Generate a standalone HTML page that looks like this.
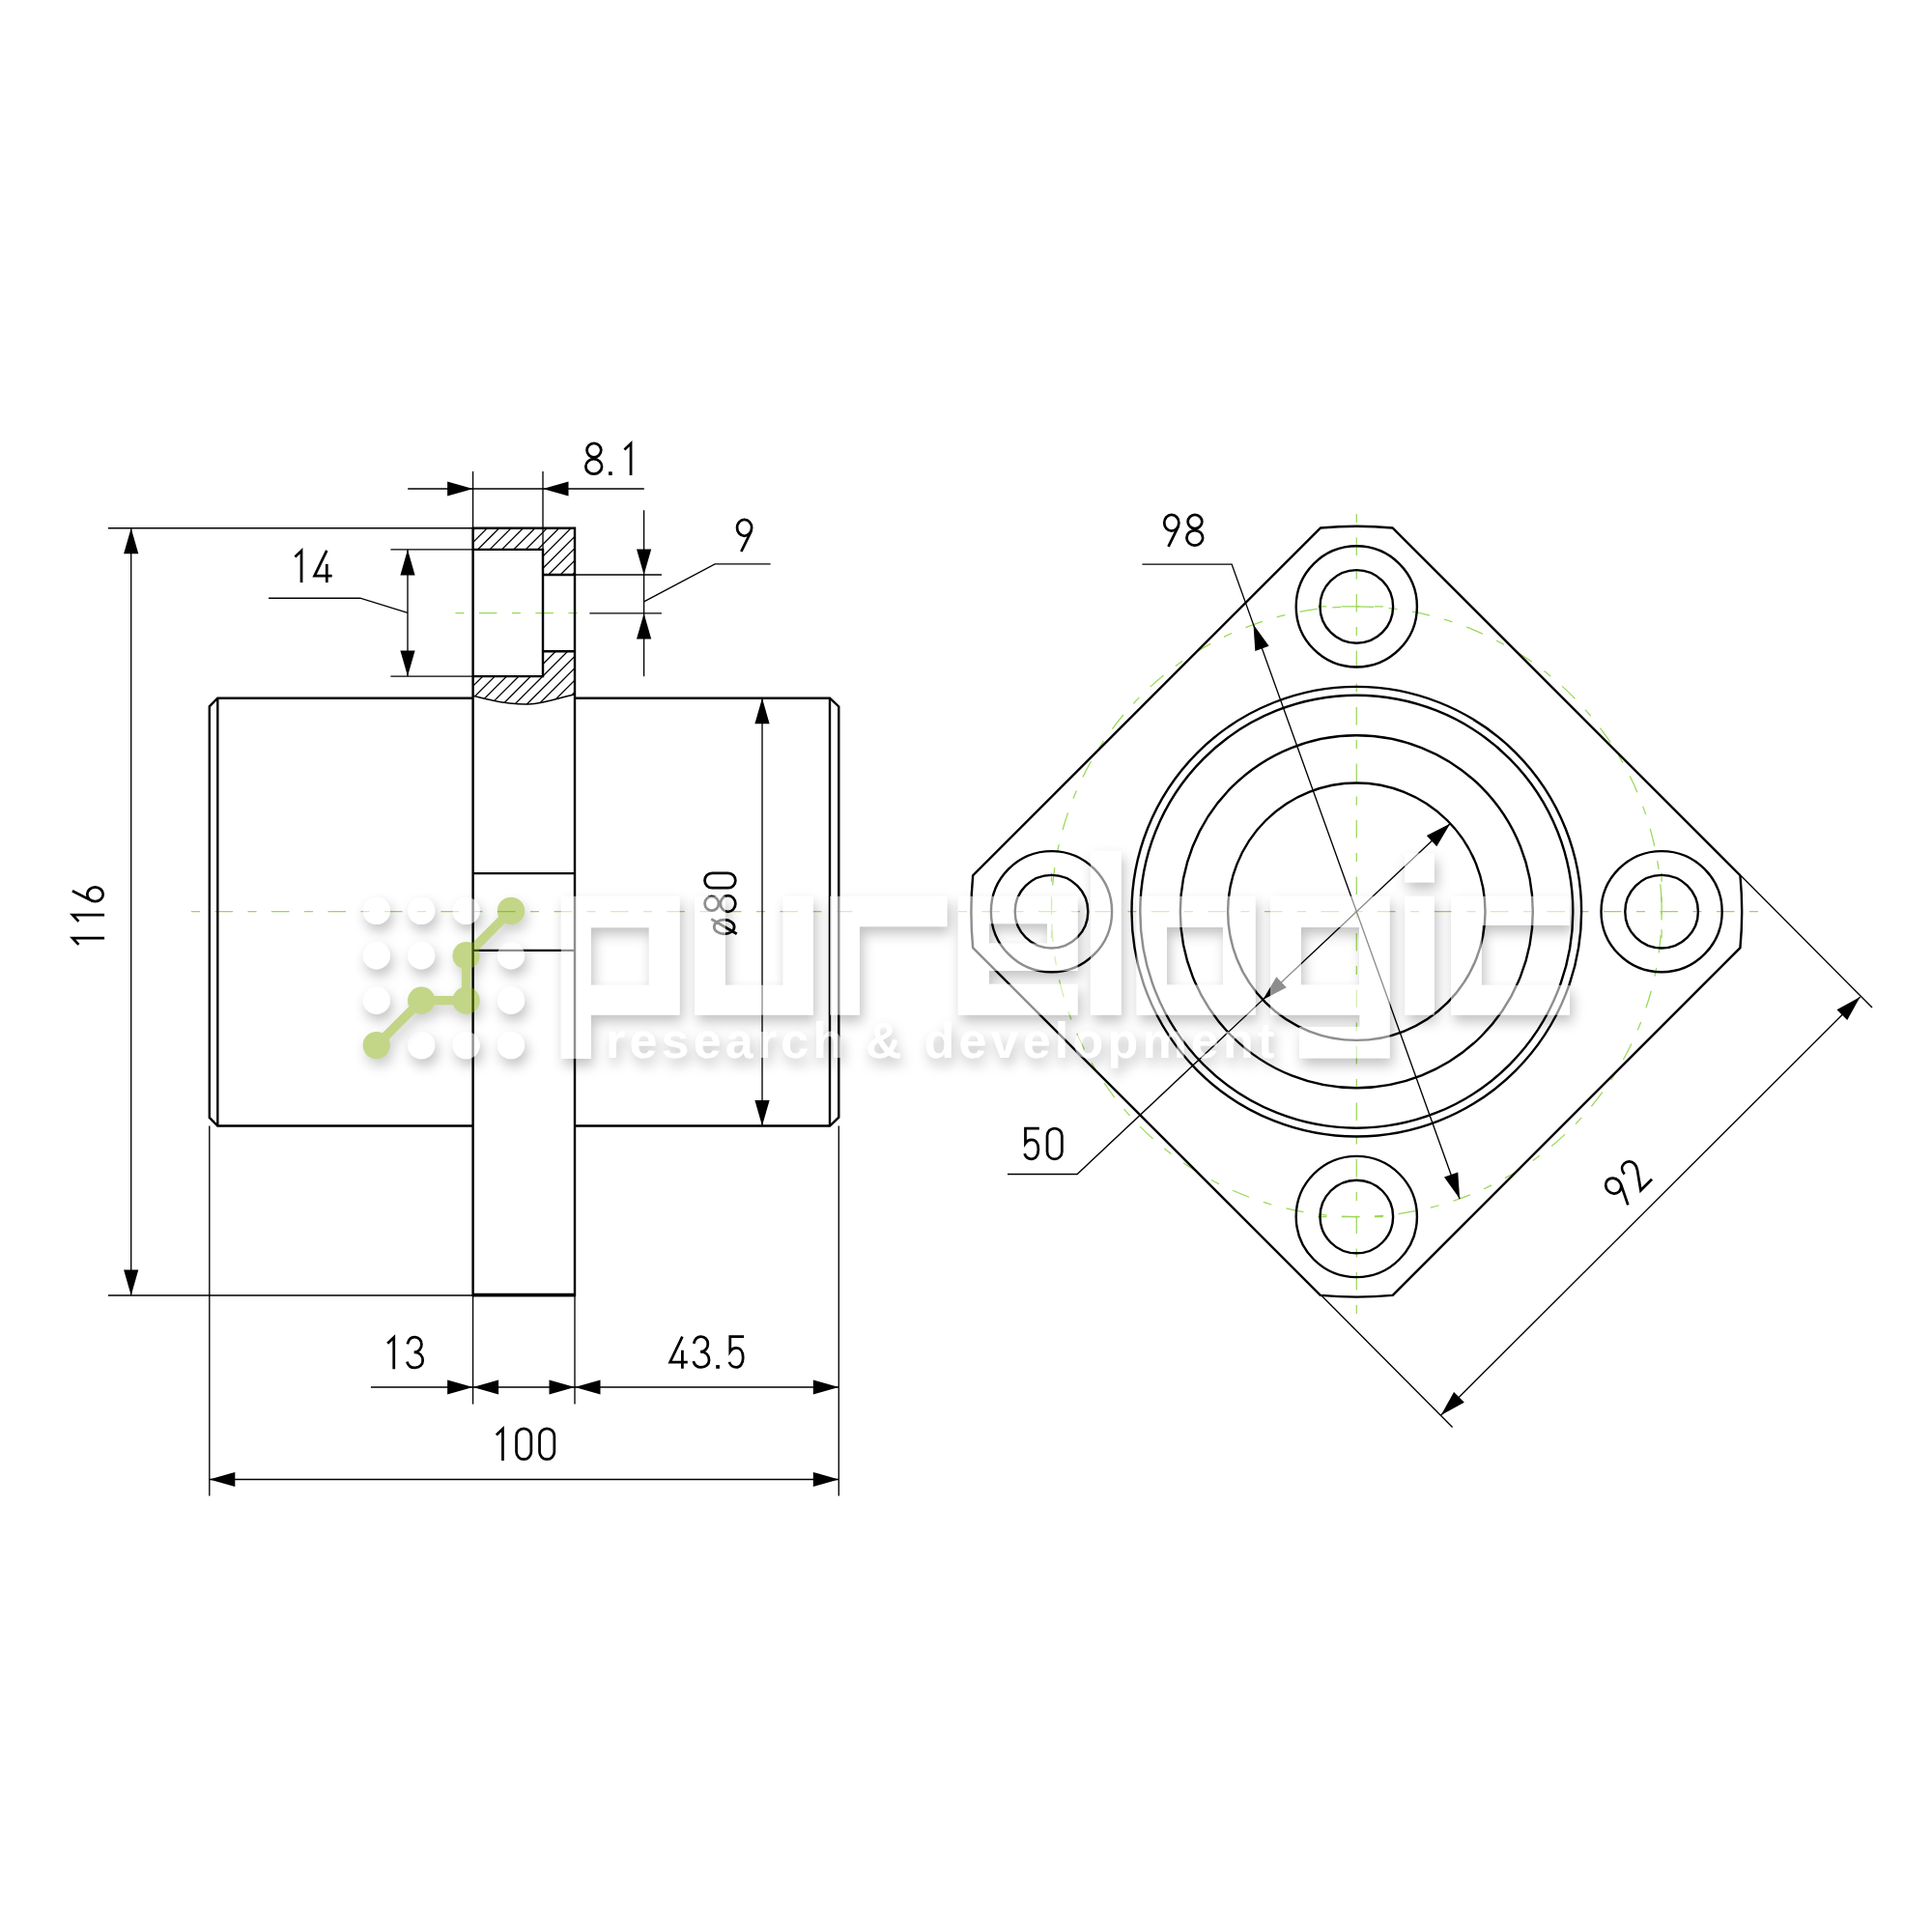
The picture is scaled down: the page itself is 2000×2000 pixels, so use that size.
<!DOCTYPE html>
<html><head><meta charset="utf-8"><title>Flange drawing</title>
<style>html,body{margin:0;padding:0;background:#fff;width:2000px;height:2000px;overflow:hidden}svg{display:block}</style>
</head><body>
<svg width="2000" height="2000" viewBox="0 0 2000 2000">
<rect width="2000" height="2000" fill="#fff"/>
<defs>
<clipPath id="hA"><path d="M489.6,546.7 L595.0,546.7 L595.0,595.0 L562.0,595.0 L562.0,568.9 L489.6,568.9 Z"/></clipPath>
<clipPath id="hB"><path d="M489.6,700.1 L562.0,700.1 L562.0,674.2 L595.0,674.2 L595.0,718.7 C580.0,722 563.0,728.5 547,729 C530,729.5 515,727 489.6,720.3 Z"/></clipPath>
<filter id="sh" x="-20%" y="-20%" width="140%" height="150%" color-interpolation-filters="sRGB">
<feGaussianBlur in="SourceAlpha" stdDeviation="6.5" result="bl"/>
<feOffset in="bl" dx="3" dy="7" result="of"/>
<feComposite in="of" in2="SourceAlpha" operator="out" result="o"/>
<feColorMatrix in="o" type="matrix" values="0 0 0 0 0  0 0 0 0 0  0 0 0 0 0  0 0 0 0.24 0" result="s"/>
<feComponentTransfer in="SourceGraphic" result="w"><feFuncA type="linear" slope="0.56"/></feComponentTransfer>
<feMerge><feMergeNode in="s"/><feMergeNode in="w"/></feMerge>
</filter>
<filter id="shg" x="-20%" y="-20%" width="140%" height="150%" color-interpolation-filters="sRGB">
<feGaussianBlur in="SourceAlpha" stdDeviation="6.5" result="bl"/>
<feOffset in="bl" dx="3" dy="7" result="of"/>
<feComposite in="of" in2="SourceAlpha" operator="out" result="o"/>
<feColorMatrix in="o" type="matrix" values="0 0 0 0 0  0 0 0 0 0  0 0 0 0 0  0 0 0 0.2 0" result="s"/>
<feComponentTransfer in="SourceGraphic" result="w"><feFuncA type="linear" slope="0.47"/></feComponentTransfer>
<feMerge><feMergeNode in="s"/><feMergeNode in="w"/></feMerge>
</filter>
</defs>
<line x1="198.00" y1="943.70" x2="882.40" y2="943.70" stroke="#9ad858" stroke-width="1.25" stroke-dasharray="9 15.5 18.5 15.5" stroke-dashoffset="0"/>
<line x1="471.40" y1="634.60" x2="610.40" y2="634.60" stroke="#9ad858" stroke-width="1.25" stroke-dasharray="9 15.5 18.5 15.5" stroke-dashoffset="0"/>
<circle cx="1404.3" cy="943.7" r="315.8" fill="none" stroke="#9ad858" stroke-width="1.25" stroke-dasharray="9 15.5 18.5 15.5"/>
<line x1="992.00" y1="943.70" x2="1821.00" y2="943.70" stroke="#9ad858" stroke-width="1.25" stroke-dasharray="9 15.5 18.5 15.5" stroke-dashoffset="0"/>
<line x1="1404.30" y1="532.00" x2="1404.30" y2="1360.00" stroke="#9ad858" stroke-width="1.25" stroke-dasharray="9 15.5 18.5 15.5" stroke-dashoffset="0"/>
<line x1="1364.30" y1="627.90" x2="1444.30" y2="627.90" stroke="#9ad858" stroke-width="1.25" stroke-dasharray="9 15.5 18.5 15.5" stroke-dashoffset="0"/>
<line x1="1720.10" y1="903.70" x2="1720.10" y2="983.70" stroke="#9ad858" stroke-width="1.25" stroke-dasharray="9 15.5 18.5 15.5" stroke-dashoffset="0"/>
<line x1="1364.30" y1="1259.50" x2="1444.30" y2="1259.50" stroke="#9ad858" stroke-width="1.25" stroke-dasharray="9 15.5 18.5 15.5" stroke-dashoffset="0"/>
<line x1="1088.50" y1="903.70" x2="1088.50" y2="983.70" stroke="#9ad858" stroke-width="1.25" stroke-dasharray="9 15.5 18.5 15.5" stroke-dashoffset="0"/>
<g stroke="#000" stroke-width="1.3">
<g clip-path="url(#hA)">
<line x1="273.10" y1="530" x2="63.10" y2="740"/>
<line x1="285.50" y1="530" x2="75.50" y2="740"/>
<line x1="297.90" y1="530" x2="87.90" y2="740"/>
<line x1="310.30" y1="530" x2="100.30" y2="740"/>
<line x1="322.70" y1="530" x2="112.70" y2="740"/>
<line x1="335.10" y1="530" x2="125.10" y2="740"/>
<line x1="347.50" y1="530" x2="137.50" y2="740"/>
<line x1="359.90" y1="530" x2="149.90" y2="740"/>
<line x1="372.30" y1="530" x2="162.30" y2="740"/>
<line x1="384.70" y1="530" x2="174.70" y2="740"/>
<line x1="397.10" y1="530" x2="187.10" y2="740"/>
<line x1="409.50" y1="530" x2="199.50" y2="740"/>
<line x1="421.90" y1="530" x2="211.90" y2="740"/>
<line x1="434.30" y1="530" x2="224.30" y2="740"/>
<line x1="446.70" y1="530" x2="236.70" y2="740"/>
<line x1="459.10" y1="530" x2="249.10" y2="740"/>
<line x1="471.50" y1="530" x2="261.50" y2="740"/>
<line x1="483.90" y1="530" x2="273.90" y2="740"/>
<line x1="496.30" y1="530" x2="286.30" y2="740"/>
<line x1="508.70" y1="530" x2="298.70" y2="740"/>
<line x1="521.10" y1="530" x2="311.10" y2="740"/>
<line x1="533.50" y1="530" x2="323.50" y2="740"/>
<line x1="545.90" y1="530" x2="335.90" y2="740"/>
<line x1="558.30" y1="530" x2="348.30" y2="740"/>
<line x1="570.70" y1="530" x2="360.70" y2="740"/>
<line x1="583.10" y1="530" x2="373.10" y2="740"/>
<line x1="595.50" y1="530" x2="385.50" y2="740"/>
<line x1="607.90" y1="530" x2="397.90" y2="740"/>
<line x1="620.30" y1="530" x2="410.30" y2="740"/>
<line x1="632.70" y1="530" x2="422.70" y2="740"/>
<line x1="645.10" y1="530" x2="435.10" y2="740"/>
<line x1="657.50" y1="530" x2="447.50" y2="740"/>
<line x1="669.90" y1="530" x2="459.90" y2="740"/>
<line x1="682.30" y1="530" x2="472.30" y2="740"/>
<line x1="694.70" y1="530" x2="484.70" y2="740"/>
<line x1="707.10" y1="530" x2="497.10" y2="740"/>
<line x1="719.50" y1="530" x2="509.50" y2="740"/>
<line x1="731.90" y1="530" x2="521.90" y2="740"/>
<line x1="744.30" y1="530" x2="534.30" y2="740"/>
<line x1="756.70" y1="530" x2="546.70" y2="740"/>
<line x1="769.10" y1="530" x2="559.10" y2="740"/>
<line x1="781.50" y1="530" x2="571.50" y2="740"/>
<line x1="793.90" y1="530" x2="583.90" y2="740"/>
<line x1="806.30" y1="530" x2="596.30" y2="740"/>
<line x1="818.70" y1="530" x2="608.70" y2="740"/>
<line x1="831.10" y1="530" x2="621.10" y2="740"/>
<line x1="843.50" y1="530" x2="633.50" y2="740"/>
<line x1="855.90" y1="530" x2="645.90" y2="740"/>
<line x1="868.30" y1="530" x2="658.30" y2="740"/>
<line x1="880.70" y1="530" x2="670.70" y2="740"/>
<line x1="893.10" y1="530" x2="683.10" y2="740"/>
<line x1="905.50" y1="530" x2="695.50" y2="740"/>
<line x1="917.90" y1="530" x2="707.90" y2="740"/>
<line x1="930.30" y1="530" x2="720.30" y2="740"/>
<line x1="942.70" y1="530" x2="732.70" y2="740"/>
<line x1="955.10" y1="530" x2="745.10" y2="740"/>
<line x1="967.50" y1="530" x2="757.50" y2="740"/>
<line x1="979.90" y1="530" x2="769.90" y2="740"/>
<line x1="992.30" y1="530" x2="782.30" y2="740"/>
<line x1="1004.70" y1="530" x2="794.70" y2="740"/>
</g>
<g clip-path="url(#hB)">
<line x1="273.10" y1="530" x2="63.10" y2="740"/>
<line x1="285.50" y1="530" x2="75.50" y2="740"/>
<line x1="297.90" y1="530" x2="87.90" y2="740"/>
<line x1="310.30" y1="530" x2="100.30" y2="740"/>
<line x1="322.70" y1="530" x2="112.70" y2="740"/>
<line x1="335.10" y1="530" x2="125.10" y2="740"/>
<line x1="347.50" y1="530" x2="137.50" y2="740"/>
<line x1="359.90" y1="530" x2="149.90" y2="740"/>
<line x1="372.30" y1="530" x2="162.30" y2="740"/>
<line x1="384.70" y1="530" x2="174.70" y2="740"/>
<line x1="397.10" y1="530" x2="187.10" y2="740"/>
<line x1="409.50" y1="530" x2="199.50" y2="740"/>
<line x1="421.90" y1="530" x2="211.90" y2="740"/>
<line x1="434.30" y1="530" x2="224.30" y2="740"/>
<line x1="446.70" y1="530" x2="236.70" y2="740"/>
<line x1="459.10" y1="530" x2="249.10" y2="740"/>
<line x1="471.50" y1="530" x2="261.50" y2="740"/>
<line x1="483.90" y1="530" x2="273.90" y2="740"/>
<line x1="496.30" y1="530" x2="286.30" y2="740"/>
<line x1="508.70" y1="530" x2="298.70" y2="740"/>
<line x1="521.10" y1="530" x2="311.10" y2="740"/>
<line x1="533.50" y1="530" x2="323.50" y2="740"/>
<line x1="545.90" y1="530" x2="335.90" y2="740"/>
<line x1="558.30" y1="530" x2="348.30" y2="740"/>
<line x1="570.70" y1="530" x2="360.70" y2="740"/>
<line x1="583.10" y1="530" x2="373.10" y2="740"/>
<line x1="595.50" y1="530" x2="385.50" y2="740"/>
<line x1="607.90" y1="530" x2="397.90" y2="740"/>
<line x1="620.30" y1="530" x2="410.30" y2="740"/>
<line x1="632.70" y1="530" x2="422.70" y2="740"/>
<line x1="645.10" y1="530" x2="435.10" y2="740"/>
<line x1="657.50" y1="530" x2="447.50" y2="740"/>
<line x1="669.90" y1="530" x2="459.90" y2="740"/>
<line x1="682.30" y1="530" x2="472.30" y2="740"/>
<line x1="694.70" y1="530" x2="484.70" y2="740"/>
<line x1="707.10" y1="530" x2="497.10" y2="740"/>
<line x1="719.50" y1="530" x2="509.50" y2="740"/>
<line x1="731.90" y1="530" x2="521.90" y2="740"/>
<line x1="744.30" y1="530" x2="534.30" y2="740"/>
<line x1="756.70" y1="530" x2="546.70" y2="740"/>
<line x1="769.10" y1="530" x2="559.10" y2="740"/>
<line x1="781.50" y1="530" x2="571.50" y2="740"/>
<line x1="793.90" y1="530" x2="583.90" y2="740"/>
<line x1="806.30" y1="530" x2="596.30" y2="740"/>
<line x1="818.70" y1="530" x2="608.70" y2="740"/>
<line x1="831.10" y1="530" x2="621.10" y2="740"/>
<line x1="843.50" y1="530" x2="633.50" y2="740"/>
<line x1="855.90" y1="530" x2="645.90" y2="740"/>
<line x1="868.30" y1="530" x2="658.30" y2="740"/>
<line x1="880.70" y1="530" x2="670.70" y2="740"/>
<line x1="893.10" y1="530" x2="683.10" y2="740"/>
<line x1="905.50" y1="530" x2="695.50" y2="740"/>
<line x1="917.90" y1="530" x2="707.90" y2="740"/>
<line x1="930.30" y1="530" x2="720.30" y2="740"/>
<line x1="942.70" y1="530" x2="732.70" y2="740"/>
<line x1="955.10" y1="530" x2="745.10" y2="740"/>
<line x1="967.50" y1="530" x2="757.50" y2="740"/>
<line x1="979.90" y1="530" x2="769.90" y2="740"/>
<line x1="992.30" y1="530" x2="782.30" y2="740"/>
<line x1="1004.70" y1="530" x2="794.70" y2="740"/>
</g>
</g>
<path d="M595.0,718.7 C580.0,722 563.0,728.5 547,729 C530,729.5 515,727 489.6,720.3" fill="none" stroke="#000" stroke-width="1.4"/>
<path d="M489.60,722.70 L225.30,722.70 L216.80,731.30 L216.80,1156.90 L225.30,1165.50 L489.60,1165.50" fill="none" stroke="#000" stroke-width="2.4" stroke-linejoin="miter" />
<line x1="225.30" y1="722.70" x2="225.30" y2="1165.50" stroke="#000" stroke-width="2.4" />
<path d="M595.00,722.70 L859.00,722.70 L868.30,731.50 L868.30,1156.70 L859.00,1165.50 L595.00,1165.50" fill="none" stroke="#000" stroke-width="2.4" stroke-linejoin="miter" />
<line x1="859.00" y1="722.70" x2="859.00" y2="1165.50" stroke="#000" stroke-width="2.4" />
<path d="M489.60,546.70 L595.00,546.70 L595.00,1341.00 L489.60,1341.00 Z" fill="none" stroke="#000" stroke-width="2.4" stroke-linejoin="miter" />
<line x1="489.60" y1="1340.50" x2="595.00" y2="1340.50" stroke="#000" stroke-width="3.6" />
<path d="M489.60,568.90 L562.00,568.90 L562.00,700.10 L489.60,700.10" fill="none" stroke="#000" stroke-width="2.4" stroke-linejoin="miter" />
<line x1="562.00" y1="595.00" x2="595.00" y2="595.00" stroke="#000" stroke-width="2.4" />
<line x1="562.00" y1="674.20" x2="595.00" y2="674.20" stroke="#000" stroke-width="2.4" />
<line x1="489.60" y1="904.10" x2="595.00" y2="904.10" stroke="#000" stroke-width="2.4" />
<line x1="489.60" y1="983.90" x2="595.00" y2="983.90" stroke="#000" stroke-width="2.4" />
<line x1="112.00" y1="546.70" x2="489.60" y2="546.70" stroke="#000" stroke-width="1.35" />
<line x1="112.00" y1="1341.00" x2="489.60" y2="1341.00" stroke="#000" stroke-width="1.35" />
<line x1="135.70" y1="546.70" x2="135.70" y2="1341.00" stroke="#000" stroke-width="1.35" />
<path d="M135.70,546.70 L143.30,573.20 L128.10,573.20 Z" fill="#000"/>
<path d="M135.70,1341.00 L128.10,1314.50 L143.30,1314.50 Z" fill="#000"/>
<g transform="translate(73.60,978.80) rotate(-90)" fill="none" stroke="#000" stroke-width="2.75" stroke-linejoin="miter" stroke-linecap="butt"><path transform="translate(0.00,0)" d="M0.95,7.9 L7.55,1.6 V34.5"/><path transform="translate(24.00,0)" d="M0.95,7.9 L7.55,1.6 V34.5"/><path transform="translate(44.30,0)" d="M12.3,1.3 L2.4,20.6 M1.35,24.9 A7.35,8.25 0 1 0 16.05,24.9 A7.35,8.25 0 1 0 1.35,24.9 Z"/></g>
<line x1="404.40" y1="568.90" x2="489.60" y2="568.90" stroke="#000" stroke-width="1.35" />
<line x1="404.40" y1="700.10" x2="489.60" y2="700.10" stroke="#000" stroke-width="1.35" />
<line x1="422.00" y1="568.90" x2="422.00" y2="700.10" stroke="#000" stroke-width="1.35" />
<path d="M422.00,568.90 L429.60,595.40 L414.40,595.40 Z" fill="#000"/>
<path d="M422.00,700.10 L414.40,673.60 L429.60,673.60 Z" fill="#000"/>
<path d="M278.10,619.20 L372.80,619.20 L422.00,634.40" fill="none" stroke="#000" stroke-width="1.35" stroke-linejoin="miter" />
<g transform="translate(304.50,568.50)" fill="none" stroke="#000" stroke-width="2.75" stroke-linejoin="miter" stroke-linecap="butt"><path transform="translate(0.00,0)" d="M0.95,7.9 L7.55,1.6 V34.5"/><path transform="translate(19.70,0)" d="M14.1,1.35 L1.35,27.7 H19.5 M14.1,15.5 V34.5"/></g>
<line x1="489.60" y1="488.00" x2="489.60" y2="546.70" stroke="#000" stroke-width="1.35" />
<line x1="562.00" y1="488.00" x2="562.00" y2="568.90" stroke="#000" stroke-width="1.35" />
<line x1="422.20" y1="506.00" x2="666.80" y2="506.00" stroke="#000" stroke-width="1.35" />
<path d="M489.60,506.00 L463.10,513.60 L463.10,498.40 Z" fill="#000"/>
<path d="M562.00,506.00 L588.50,498.40 L588.50,513.60 Z" fill="#000"/>
<g transform="translate(605.00,457.50)" fill="none" stroke="#000" stroke-width="2.75" stroke-linejoin="miter" stroke-linecap="butt"><path transform="translate(0.00,0)" d="M2.55,8.6 A7.35,7.2 0 1 0 17.25,8.6 A7.35,7.2 0 1 0 2.55,8.6 Z M1.35,25.4 A8.35,7.75 0 1 0 18.05,25.4 A8.35,7.75 0 1 0 1.35,25.4 Z"/><rect x="25.00" y="30.8" width="3.7" height="3.7" fill="#000" stroke="none"/><path transform="translate(40.50,0)" d="M0.95,7.9 L7.55,1.6 V34.5"/></g>
<line x1="595.00" y1="595.00" x2="684.90" y2="595.00" stroke="#000" stroke-width="1.35" />
<line x1="610.40" y1="634.90" x2="684.90" y2="634.90" stroke="#000" stroke-width="1.35" />
<line x1="666.60" y1="528.20" x2="666.60" y2="700.20" stroke="#000" stroke-width="1.35" />
<path d="M666.60,595.00 L659.00,568.50 L674.20,568.50 Z" fill="#000"/>
<path d="M666.60,634.90 L674.20,661.40 L659.00,661.40 Z" fill="#000"/>
<path d="M666.60,622.80 L740.10,583.80 L797.60,583.80" fill="none" stroke="#000" stroke-width="1.35" stroke-linejoin="miter" />
<g transform="translate(761.70,536.50)" fill="none" stroke="#000" stroke-width="2.75" stroke-linejoin="miter" stroke-linecap="butt"><path transform="translate(0.00,0)" d="M1.35,9.8 A7.55,8.45 0 1 0 16.45,9.8 A7.55,8.45 0 1 0 1.35,9.8 Z M15.9,13.4 L5.6,34.5"/></g>
<line x1="789.00" y1="722.70" x2="789.00" y2="1165.50" stroke="#000" stroke-width="1.35" />
<path d="M789.00,722.70 L796.60,749.20 L781.40,749.20 Z" fill="#000"/>
<path d="M789.00,1165.50 L781.40,1139.00 L796.60,1139.00 Z" fill="#000"/>
<g transform="translate(728.20,968.20) rotate(-90)" fill="none" stroke="#000" stroke-width="2.75" stroke-linejoin="miter" stroke-linecap="butt"><path transform="translate(0.00,0)" d="M1.35,21.5 A7.35,10.45 0 1 0 16.05,21.5 A7.35,10.45 0 1 0 1.35,21.5 Z M16.8,8.1 L1.4,34.5"/><path transform="translate(23.00,0)" d="M2.55,8.6 A7.35,7.2 0 1 0 17.25,8.6 A7.35,7.2 0 1 0 2.55,8.6 Z M1.35,25.4 A8.35,7.75 0 1 0 18.05,25.4 A8.35,7.75 0 1 0 1.35,25.4 Z"/><path transform="translate(47.70,0)" d="M1.35,9.0 A7.65,7.65 0 0 1 16.65,9.0 V25.5 A7.65,7.65 0 0 1 1.35,25.5 Z"/></g>
<line x1="489.60" y1="1341.00" x2="489.60" y2="1453.60" stroke="#000" stroke-width="1.35" />
<line x1="595.00" y1="1341.00" x2="595.00" y2="1453.60" stroke="#000" stroke-width="1.35" />
<line x1="383.90" y1="1436.00" x2="868.30" y2="1436.00" stroke="#000" stroke-width="1.35" />
<path d="M489.60,1436.00 L463.10,1443.60 L463.10,1428.40 Z" fill="#000"/>
<path d="M489.60,1436.00 L516.10,1428.40 L516.10,1443.60 Z" fill="#000"/>
<path d="M595.00,1436.00 L568.50,1443.60 L568.50,1428.40 Z" fill="#000"/>
<path d="M595.00,1436.00 L621.50,1428.40 L621.50,1443.60 Z" fill="#000"/>
<path d="M868.30,1436.00 L841.80,1443.60 L841.80,1428.40 Z" fill="#000"/>
<g transform="translate(400.20,1382.80)" fill="none" stroke="#000" stroke-width="2.75" stroke-linejoin="miter" stroke-linecap="butt"><path transform="translate(0.00,0)" d="M0.95,7.9 L7.55,1.6 V34.5"/><path transform="translate(19.80,0)" d="M1.8,8.6 C2.8,4.2 5.8,1.35 9.3,1.35 C13.4,1.35 16.4,4.6 16.4,8.9 C16.4,13.6 13.2,17.1 8.6,17.1 H9.6 C14.4,17.1 17.65,20.8 17.65,25.6 C17.65,30.0 14.2,33.15 9.6,33.15 C5.6,33.15 2.4,30.6 1.35,26.8"/></g>
<g transform="translate(692.30,1382.30)" fill="none" stroke="#000" stroke-width="2.75" stroke-linejoin="miter" stroke-linecap="butt"><path transform="translate(0.00,0)" d="M14.1,1.35 L1.35,27.7 H19.5 M14.1,15.5 V34.5"/><path transform="translate(24.10,0)" d="M1.8,8.6 C2.8,4.2 5.8,1.35 9.3,1.35 C13.4,1.35 16.4,4.6 16.4,8.9 C16.4,13.6 13.2,17.1 8.6,17.1 H9.6 C14.4,17.1 17.65,20.8 17.65,25.6 C17.65,30.0 14.2,33.15 9.6,33.15 C5.6,33.15 2.4,30.6 1.35,26.8"/><rect x="48.90" y="30.8" width="3.7" height="3.7" fill="#000" stroke="none"/><path transform="translate(61.20,0)" d="M16.6,1.35 H2.3 V16.8 C3.9,14.4 6.1,13.15 8.6,13.15 C12.9,13.15 15.65,16.9 15.65,22.6 V23.6 C15.65,29.4 12.6,33.15 8.6,33.15 C5.4,33.15 2.6,31.0 1.35,27.6"/></g>
<line x1="216.80" y1="1165.50" x2="216.80" y2="1548.60" stroke="#000" stroke-width="1.35" />
<line x1="868.30" y1="1165.50" x2="868.30" y2="1548.60" stroke="#000" stroke-width="1.35" />
<line x1="216.80" y1="1531.50" x2="868.30" y2="1531.50" stroke="#000" stroke-width="1.35" />
<path d="M216.80,1531.50 L243.30,1523.90 L243.30,1539.10 Z" fill="#000"/>
<path d="M868.30,1531.50 L841.80,1539.10 L841.80,1523.90 Z" fill="#000"/>
<g transform="translate(512.90,1477.50)" fill="none" stroke="#000" stroke-width="2.75" stroke-linejoin="miter" stroke-linecap="butt"><path transform="translate(0.00,0)" d="M0.95,7.9 L7.55,1.6 V34.5"/><path transform="translate(20.30,0)" d="M1.35,9.0 A7.65,7.65 0 0 1 16.65,9.0 V25.5 A7.65,7.65 0 0 1 1.35,25.5 Z"/><path transform="translate(44.30,0)" d="M1.35,9.0 A7.65,7.65 0 0 1 16.65,9.0 V25.5 A7.65,7.65 0 0 1 1.35,25.5 Z"/></g>
<path d="M1441.76,546.56 L1801.44,906.24 A398.9,398.9 0 0 1 1801.44,981.16 L1441.76,1340.84 A398.9,398.9 0 0 1 1366.84,1340.84 L1007.16,981.16 A398.9,398.9 0 0 1 1007.16,906.24 L1366.84,546.56 A398.9,398.9 0 0 1 1441.76,546.56 Z" fill="none" stroke="#000" stroke-width="2.4"/>
<circle cx="1404.30" cy="627.90" r="62.6" fill="none" stroke="#000" stroke-width="2.4"/>
<circle cx="1404.30" cy="627.90" r="37.8" fill="none" stroke="#000" stroke-width="2.4"/>
<circle cx="1720.10" cy="943.70" r="62.6" fill="none" stroke="#000" stroke-width="2.4"/>
<circle cx="1720.10" cy="943.70" r="37.8" fill="none" stroke="#000" stroke-width="2.4"/>
<circle cx="1404.30" cy="1259.50" r="62.6" fill="none" stroke="#000" stroke-width="2.4"/>
<circle cx="1404.30" cy="1259.50" r="37.8" fill="none" stroke="#000" stroke-width="2.4"/>
<circle cx="1088.50" cy="943.70" r="62.6" fill="none" stroke="#000" stroke-width="2.4"/>
<circle cx="1088.50" cy="943.70" r="37.8" fill="none" stroke="#000" stroke-width="2.4"/>
<circle cx="1404.3" cy="943.7" r="232.8" fill="none" stroke="#000" stroke-width="2.4"/>
<circle cx="1404.3" cy="943.7" r="224.0" fill="none" stroke="#000" stroke-width="2.4"/>
<circle cx="1404.3" cy="943.7" r="182.5" fill="none" stroke="#000" stroke-width="2.4"/>
<circle cx="1404.3" cy="943.7" r="133.2" fill="none" stroke="#000" stroke-width="2.4"/>
<path d="M1182.40,584.10 L1275.10,584.10 L1511.08,1240.90" fill="none" stroke="#000" stroke-width="1.35" stroke-linejoin="miter" />
<path d="M1297.52,646.50 L1313.63,668.87 L1299.33,674.01 Z" fill="#000"/>
<path d="M1511.08,1240.90 L1494.97,1218.53 L1509.27,1213.39 Z" fill="#000"/>
<g transform="translate(1203.90,531.40)" fill="none" stroke="#000" stroke-width="2.75" stroke-linejoin="miter" stroke-linecap="butt"><path transform="translate(0.00,0)" d="M1.35,9.8 A7.55,8.45 0 1 0 16.45,9.8 A7.55,8.45 0 1 0 1.35,9.8 Z M15.9,13.4 L5.6,34.5"/><path transform="translate(23.20,0)" d="M2.55,8.6 A7.35,7.2 0 1 0 17.25,8.6 A7.35,7.2 0 1 0 2.55,8.6 Z M1.35,25.4 A8.35,7.75 0 1 0 18.05,25.4 A8.35,7.75 0 1 0 1.35,25.4 Z"/></g>
<path d="M1043.00,1215.50 L1115.10,1215.50 L1501.36,852.48" fill="none" stroke="#000" stroke-width="1.35" stroke-linejoin="miter" />
<path d="M1501.36,852.48 L1487.26,876.16 L1476.85,865.09 Z" fill="#000"/>
<path d="M1307.24,1034.92 L1321.34,1011.24 L1331.75,1022.31 Z" fill="#000"/>
<g transform="translate(1059.20,1166.70)" fill="none" stroke="#000" stroke-width="2.75" stroke-linejoin="miter" stroke-linecap="butt"><path transform="translate(0.00,0)" d="M16.6,1.35 H2.3 V16.8 C3.9,14.4 6.1,13.15 8.6,13.15 C12.9,13.15 15.65,16.9 15.65,22.6 V23.6 C15.65,29.4 12.6,33.15 8.6,33.15 C5.4,33.15 2.6,31.0 1.35,27.6"/><path transform="translate(23.50,0)" d="M1.35,9.0 A7.65,7.65 0 0 1 16.65,9.0 V25.5 A7.65,7.65 0 0 1 1.35,25.5 Z"/></g>
<line x1="1802.20" y1="906.50" x2="1938.00" y2="1043.10" stroke="#000" stroke-width="1.35" />
<line x1="1367.30" y1="1340.50" x2="1503.60" y2="1477.40" stroke="#000" stroke-width="1.35" />
<line x1="1491.70" y1="1465.00" x2="1925.60" y2="1032.00" stroke="#000" stroke-width="1.35" />
<path d="M1925.60,1032.00 L1912.24,1056.11 L1901.49,1045.36 Z" fill="#000"/>
<path d="M1491.70,1465.00 L1505.06,1440.89 L1515.81,1451.64 Z" fill="#000"/>
<g transform="translate(1684.00,1224.30) rotate(-45) translate(-20.95,-17.25)" fill="none" stroke="#000" stroke-width="2.75" stroke-linejoin="miter" stroke-linecap="butt"><path transform="translate(0.00,0)" d="M1.35,9.8 A7.55,8.45 0 1 0 16.45,9.8 A7.55,8.45 0 1 0 1.35,9.8 Z M15.9,13.4 L5.6,34.5"/><path transform="translate(23.90,0)" d="M1.6,9.4 C1.9,4.5 5.1,1.35 9.0,1.35 C13.3,1.35 16.5,4.6 16.5,9.0 C16.5,11.7 15.5,13.7 14.0,15.8 L1.6,33.15 H18.0"/></g>
<g filter="url(#sh)" fill="#fff">
<circle cx="389.8" cy="942.9" r="14.2"/><circle cx="436.2" cy="942.9" r="14.2"/><circle cx="482.6" cy="942.9" r="14.2"/><circle cx="389.8" cy="989.3" r="14.2"/><circle cx="436.2" cy="989.3" r="14.2"/><circle cx="529.0" cy="989.3" r="14.2"/><circle cx="389.8" cy="1035.7" r="14.2"/><circle cx="529.0" cy="1035.7" r="14.2"/><circle cx="436.2" cy="1082.1" r="14.2"/><circle cx="482.6" cy="1082.1" r="14.2"/><circle cx="529.0" cy="1082.1" r="14.2"/>
<path d="M580.70,927.70 h123.00 v123.10 h-123.00 ZM611.80,960.20 v59.50 h60.00 v-59.50 ZM580.70,1050.30 h31.10 v45.70 h-31.10 Z"/>
<path d="M719,927.7 h32 v92 h59.5 v-92 h31.5 v123.09999999999991 h-123 Z"/>
<path d="M859,927.7 h121.5 v31.5 h-90.5 v91.6 h-31 Z"/>
<path d="M991.70,927.70 h124.00 v123.10 h-124.00 ZM1024.00,956.20 v20.30 h60.00 v-20.30 ZM1024.00,1005.00 v13.70 h91.70 v-13.70 Z"/>
<path d="M1128.80,880.70 h32.00 v170.10 h-32.00 Z"/>
<path d="M1176.50,927.70 h123.20 v123.10 h-123.20 ZM1208.00,960.00 v59.50 h58.00 v-59.50 Z"/>
<path d="M1315.00,927.70 h123.70 v123.10 h-123.70 ZM1347.00,960.00 v59.50 h60.00 v-59.50 ZM1407.50,1050.30 h31.20 v20.00 h-31.20 ZM1345.00,1063.00 h93.70 v32.50 h-93.70 Z"/>
<path d="M1454.00,883.30 h31.00 v30.20 h-31.00 ZM1454.00,927.70 h31.00 v123.10 h-31.00 Z"/>
<path d="M1502,927.7 h123 v30.3 h-91.2 v61.7 h91.2 v31.10 h-123 Z"/>
<text x="627" y="1095.2" font-family="Liberation Sans" font-weight="bold" font-size="52" letter-spacing="4.2">research &amp; development</text>
</g>
<g filter="url(#shg)">
<g fill="#7fa800" stroke="#7fa800"><path d="M389.8,1082.1 L436.2,1035.7 L482.6,1035.7 L482.6,989.3 L529.0,942.9" fill="none" stroke-width="9.6"/><circle cx="389.8" cy="1082.1" r="14.2" stroke="none"/><circle cx="436.2" cy="1035.7" r="14.2" stroke="none"/><circle cx="482.6" cy="1035.7" r="14.2" stroke="none"/><circle cx="482.6" cy="989.3" r="14.2" stroke="none"/><circle cx="529.0" cy="942.9" r="14.2" stroke="none"/></g>
</g>
</svg>
</body></html>
